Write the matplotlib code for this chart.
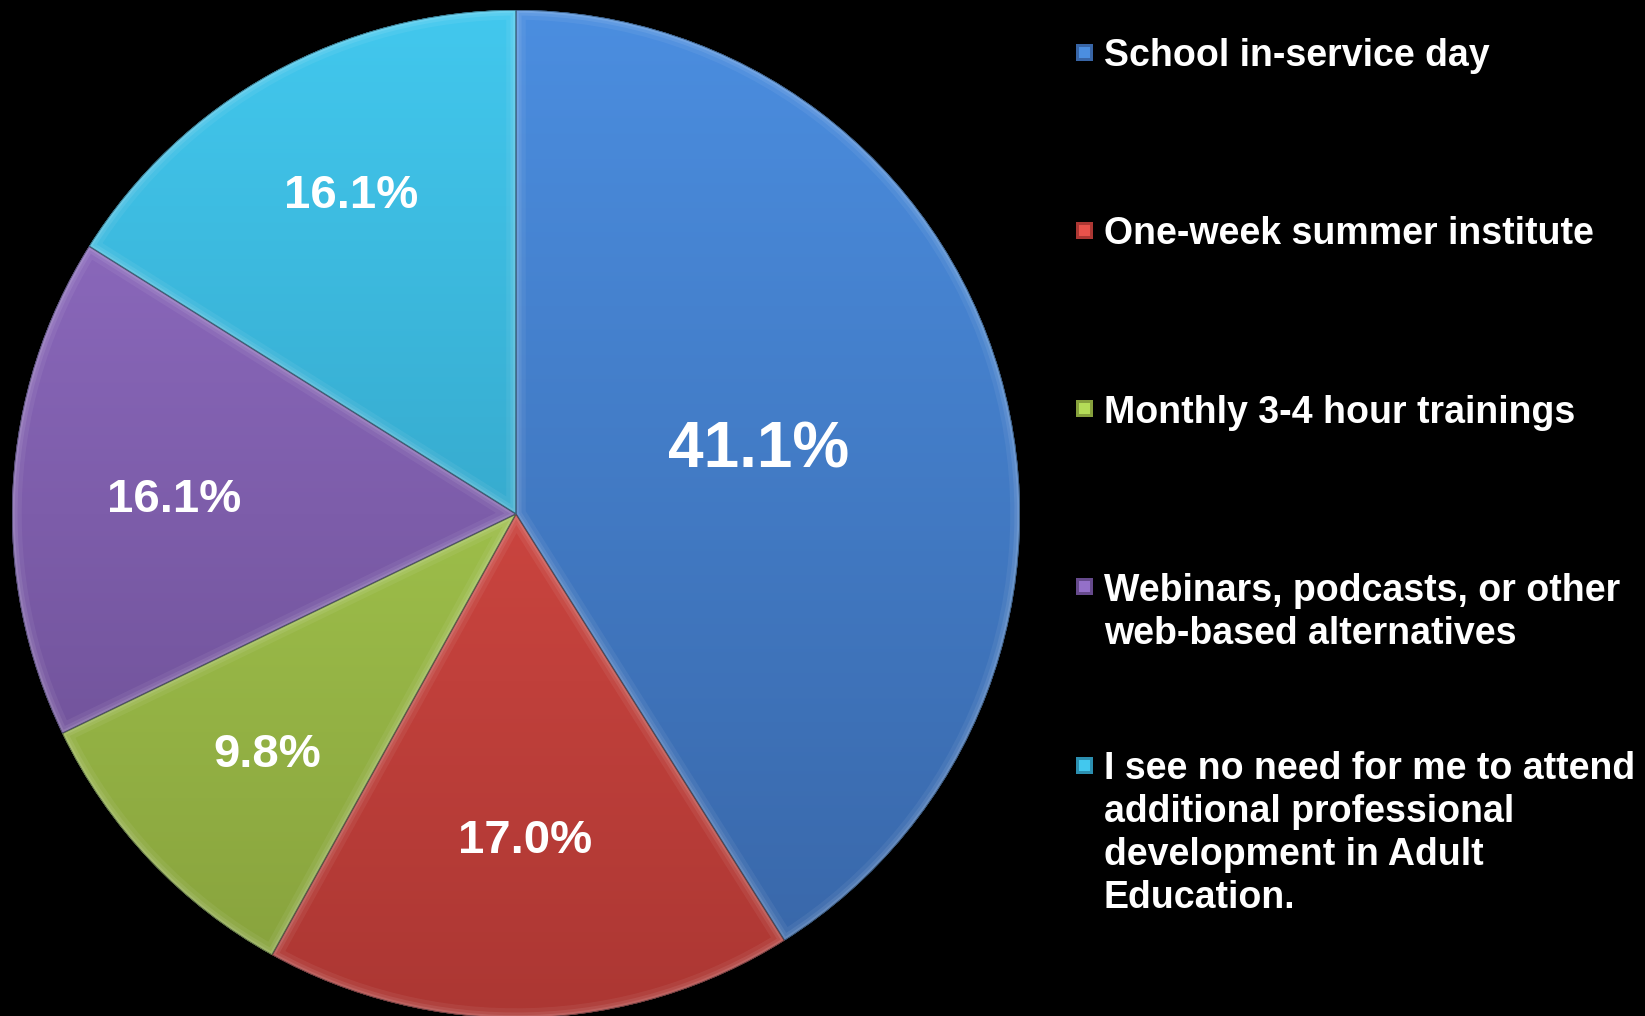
import numpy as np
import matplotlib.pyplot as plt
from matplotlib.colors import to_rgb
from matplotlib.patches import Wedge, Rectangle

# survey answers: preferred format for professional development
categories = [
    "School in-service day",
    "One-week summer institute",
    "Monthly 3-4 hour trainings",
    "Webinars, podcasts, or other\nweb-based alternatives",
    "I see no need for me to attend\nadditional professional\ndevelopment in Adult\nEducation.",
]
shares = [41.1, 17.0, 9.8, 16.1, 16.1]
pct_labels = ["41.1%", "17.0%", "9.8%", "16.1%", "16.1%"]

# light (top of pie) and dark (bottom of pie) shade for each slice
top_colors = ["#4b8ee0", "#e8524b", "#b4dc58", "#9470c8", "#42c8ee"]
bottom_colors = ["#3865a6", "#ac3733", "#86a03c", "#664a8c", "#2c8fb0"]

# label placement: fraction of the radius, angle nudge (deg), font size
label_dist = [0.50, 0.64, 0.68, 0.68, 0.72]
label_nudge = [0, 0, 0, 0, -2]
label_size = [46, 34, 34, 34, 34]

W, H = 1645, 1016
fig = plt.figure(figsize=(W / 100, H / 100), dpi=100, facecolor="black")

cx, cy, r = 516, 514, 504
ax = fig.add_axes([(cx - r) / W, 1 - (cy + r) / H, 2 * r / W, 2 * r / H])
ax.set_facecolor("black")

wedges, _ = ax.pie(shares, startangle=90, counterclock=False, radius=1,
                   colors=top_colors, wedgeprops=dict(linewidth=0))

t = np.linspace(0, 1, 256)[:, None]
for w, c0, c1 in zip(wedges, top_colors, bottom_colors):
    c0, c1 = np.array(to_rgb(c0)), np.array(to_rgb(c1))
    img = (c0[None, None, :] * (1 - t[:, :, None]) + c1[None, None, :] * t[:, :, None])
    ax.imshow(img, extent=[-1, 1, -1, 1], origin="upper", aspect="auto",
              interpolation="bilinear", clip_path=w, zorder=2)
    # soft bevel along the slice border
    for lw, a in [(14, 0.06), (8, 0.08), (4, 0.10)]:
        rim = Wedge((0, 0), 1, w.theta1, w.theta2, facecolor="none",
                    edgecolor="white", linewidth=lw, alpha=a, zorder=3)
        ax.add_patch(rim)
        rim.set_clip_path(w)
    seam = Wedge((0, 0), 1, w.theta1, w.theta2, facecolor="none",
                 edgecolor="#10202a", linewidth=1.0, alpha=0.6, zorder=4)
    ax.add_patch(seam)
    seam.set_clip_path(w)

for w, txt, d, nd, fs in zip(wedges, pct_labels, label_dist, label_nudge, label_size):
    mid = np.deg2rad((w.theta1 + w.theta2) / 2 + nd)
    ax.text(d * np.cos(mid), d * np.sin(mid), txt, ha="center", va="center_baseline",
            color="white", fontsize=fs, fontweight="bold",
            family="Liberation Sans", zorder=5)

ax.set_xlim(-1, 1)
ax.set_ylim(-1, 1)
ax.set_aspect("equal")
ax.axis("off")

# legend drawn by hand so every entry starts on an even step
x_box, x_txt = 1076, 1104
base0, step, line_gap = 66, 178.3, 43
box = 17
for i, (lab, c0, c1) in enumerate(zip(categories, top_colors, bottom_colors)):
    base = base0 + i * step
    yb = H - (base - 14) - box / 2
    fig.add_artist(Rectangle((x_box / W, yb / H), box / W, box / H,
                             transform=fig.transFigure, facecolor=c1,
                             edgecolor="none"))
    fig.add_artist(Rectangle(((x_box + 3) / W, (yb + 3) / H), (box - 6) / W, (box - 6) / H,
                             transform=fig.transFigure, facecolor=c0,
                             edgecolor="none"))
    for k, line in enumerate(lab.split("\n")):
        fig.text(x_txt / W, 1 - (base + k * line_gap) / H, line, ha="left",
                 va="baseline", color="white", fontsize=27, fontweight="bold",
                 family="Liberation Sans")

fig.savefig("out.png", dpi=100, facecolor="black")
